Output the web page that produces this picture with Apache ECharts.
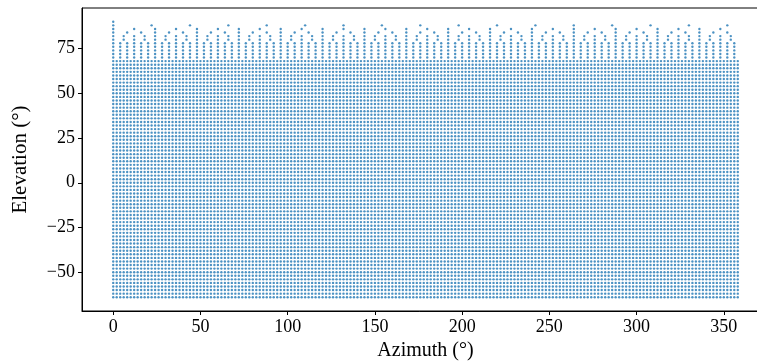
<!DOCTYPE html>
<html>
<head>
<meta charset="utf-8">
<script src="https://cdn.jsdelivr.net/npm/echarts@6/dist/echarts.min.js"></script>
<style>
  html, body { margin: 0; padding: 0; background: #fff; }
  #chart { width: 757px; height: 361px; }
</style>
</head>
<body>
<div id="chart"></div>
<script>
// azimuth columns of the full grid (deg)
const azFull = [0,2,4,6,8,10,12,14,16,18,20,22,24,26,28,30,32,34,36,38,40,42,44,46,48,50,52,54,56,58,
  60,62,64,66,68,70,72,74,76,78,80,82,84,86,88,90,92,94,96,98,100,102,104,106,108,110,112,114,116,118,
  120,122,124,126,128,130,132,134,136,138,140,142,144,146,148,150,152,154,156,158,160,162,164,166,168,170,172,174,176,178,
  180,182,184,186,188,190,192,194,196,198,200,202,204,206,208,210,212,214,216,218,220,222,224,226,228,230,232,234,236,238,
  240,242,244,246,248,250,252,254,256,258,260,262,264,266,268,270,272,274,276,278,280,282,284,286,288,290,292,294,296,298,
  300,302,304,306,308,310,312,314,316,318,320,322,324,326,328,330,332,334,336,338,340,342,344,346,348,350,352,354,356,358];

// elevation rows of the full grid (deg)
const elFull = [-64,-62,-60,-58,-56,-54,-52,-50,-48,-46,-44,-42,-40,-38,-36,-34,-32,-30,-28,-26,-24,-22,-20,-18,-16,-14,-12,-10,-8,-6,-4,-2,
  0,2,4,6,8,10,12,14,16,18,20,22,24,26,28,30,32,34,36,38,40,42,44,46,48,50,52,54,56,58,60,62,64,66,68];

// sparser azimuth sets used near the zenith
const az4 = [0,4,8,12,16,20,24,28,32,36,40,44,48,52,56,60,64,68,72,76,80,84,88,92,96,100,104,108,112,116,
  120,124,128,132,136,140,144,148,152,156,160,164,168,172,176,180,184,188,192,196,200,204,208,212,216,220,224,228,232,236,
  240,244,248,252,256,260,264,268,272,276,280,284,288,292,296,300,304,308,312,316,320,324,328,332,336,340,344,348,352,356];
const az6 = [0,6,12,18,24,30,36,42,48,54,60,66,72,78,84,90,96,102,108,114,120,126,132,138,144,150,156,162,168,174,
  180,186,192,198,204,210,216,222,228,234,240,246,252,258,264,270,276,282,288,294,300,306,312,318,324,330,336,342,348,354];
const az8 = [0,8,16,24,32,40,48,56,64,72,80,88,96,104,112,120,128,136,144,152,160,168,176,184,192,200,208,216,224,232,
  240,248,256,264,272,280,288,296,304,312,320,328,336,344,352];
const az12 = [0,12,24,36,48,60,72,84,96,108,120,132,144,156,168,180,192,204,216,228,240,252,264,276,288,300,312,324,336,348];
const az22 = [0,22,44,66,88,110,132,154,176,198,220,242,264,286,308,330,352];
const az90 = [0];

// elevation of each upper row and the azimuths it holds
const capEl = [70, 72, 74, 76, 78, 80, 82, 84, 86, 88, 90];
const capAz = [az4, az4, az4, az4, az4, az6, az6, az8, az12, az22, az90];

const xTicks = [0, 50, 100, 150, 200, 250, 300, 350];
const yTicks = [-50, -25, 0, 25, 50, 75];

const points = [];
elFull.forEach((el) => azFull.forEach((az) => points.push([az, el])));
capEl.forEach((el, i) => capAz[i].forEach((az) => points.push([az, el])));

const font = "'Liberation Serif', 'Times New Roman', serif";
const minus = (v) => String(v).replace("-", "\u2212");

const chart = echarts.init(document.getElementById("chart"));
chart.setOption({
  animation: false,
  backgroundColor: "#fff",
  grid: {
    left: 82, right: -12, top: 8, bottom: 50,
    show: true, borderColor: "#000", borderWidth: 1,
    containLabel: false, outerBoundsMode: "none",
  },
  xAxis: {
    type: "value",
    min: -17.9, max: 375.9,
    name: "Azimuth (°)",
    nameLocation: "middle",
    nameGap: 30,
    nameTextStyle: { fontFamily: font, fontSize: 20, color: "#000" },
    axisLine: { show: true, onZero: false, lineStyle: { color: "#000", width: 1 } },
    axisTick: { show: true, inside: false, length: 4, customValues: xTicks, lineStyle: { color: "#000" } },
    axisLabel: { customValues: xTicks, margin: 7, fontFamily: font, fontSize: 18, color: "#000", formatter: minus },
    splitLine: { show: false },
  },
  yAxis: {
    type: "value",
    min: -71.7, max: 97.7,
    name: "Elevation (°)",
    nameLocation: "middle",
    nameGap: 51,
    nameTextStyle: { fontFamily: font, fontSize: 21, color: "#000" },
    axisLine: { show: true, onZero: false, lineStyle: { color: "#000", width: 1 } },
    axisTick: { show: true, inside: false, length: 4, customValues: yTicks, lineStyle: { color: "#000" } },
    axisLabel: { customValues: yTicks, margin: 7, fontFamily: font, fontSize: 18, color: "#000", formatter: minus },
    splitLine: { show: false },
  },
  series: [
    {
      type: "scatter",
      data: points,
      symbol: "circle",
      symbolSize: 2.4,
      itemStyle: { color: "#1f77b4" },
      progressive: 0,
      large: false,
      emphasis: { disabled: true },
    },
  ],
});
</script>
</body>
</html>
